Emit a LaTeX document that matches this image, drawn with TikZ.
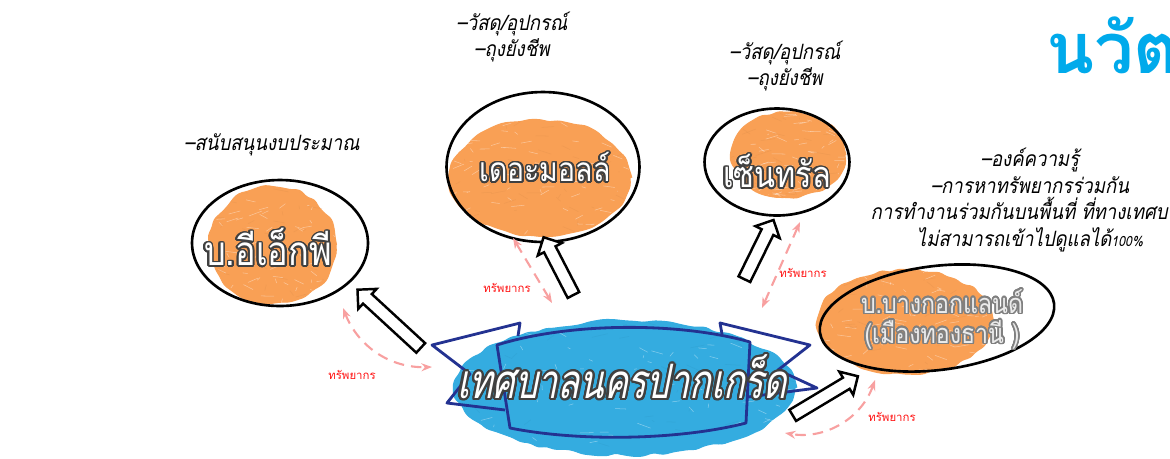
\documentclass[tikz,border=0pt]{standalone}
\usepackage{fontspec}
\usepackage{contour}
\usetikzlibrary{arrows.meta,positioning,shapes.geometric,shapes.arrows,decorations.pathmorphing}
\newfontfamily\thaifont[Script=Thai]{Loma}
\newfontfamily\namefont[Script=Thai,FakeStretch=0.85]{Loma}
\newfontfamily\bigfont[Script=Thai,FakeStretch=0.75,FakeSlant=0.2]{Loma}
\newfontfamily\thaislant[Script=Thai,FakeSlant=0.2,FakeStretch=0.88]{Loma}
\definecolor{scrorange}{RGB}{249,160,85}
\definecolor{scrblue}{RGB}{52,172,224}
\definecolor{ribbon}{RGB}{35,50,145}
\definecolor{titleblue}{RGB}{0,170,235}
\definecolor{respink}{RGB}{248,160,160}
\definecolor{resred}{RGB}{255,20,20}
\contourlength{0.9pt}
\contournumber{24}

\tikzset{
  blob/.style={fill=#1, draw=#1, line width=0.6pt, decorate,
    decoration={random steps,segment length=5pt,amplitude=1.2pt}, rounded corners=2pt},
  ring/.style={ellipse, draw=black, line width=1.5pt, inner sep=0pt},
  orgname/.style={text=white, font=\namefont\fontsize{22}{24}\selectfont},
  note/.style={align=center, font=\thaislant\fontsize{12}{15}\selectfont},
  flow/.style={single arrow, draw=black, line width=1.4pt, fill=white, inner sep=3pt,
    single arrow head extend=4pt, sloped, allow upside down},
  res/.style={respink, line width=1.2pt, dash pattern=on 6pt off 4pt,
    {Stealth[length=6pt]}-{Stealth[length=6pt]}},
  reslabel/.style={text=resred, font=\thaifont\fontsize{6.5}{8}\selectfont},
}

\begin{document}
\begin{tikzpicture}[x=0.02cm,y=-0.02cm]
  \useasboundingbox (0,0) rectangle (1170,458);
  \clip (0,0) rectangle (1170,458);
  \fill[white] (0,0) rectangle (1170,458);
  \pgfmathsetseed{7}

  % scribbled fills
  \foreach \cx/\cy/\rx/\ry/\col in {273/245/63/58/scrorange, 540/178/90/58/scrorange,
      788/155/57/42/scrorange, 905/322/88/52/scrorange, 625/388/170/67/scrblue}{
    \fill[blob=\col] (\cx,\cy) ellipse ({\rx} and {\ry});
    \begin{scope}
      \clip (\cx,\cy) ellipse ({\rx} and {\ry});
      \foreach \i in {1,...,70}
        \draw[white, opacity=0.4, line width=0.3pt]
          ({\cx+\rx*rand},{\cy+\ry*rand}) -- ++({14*rand},{5*rand});
      \foreach \i in {1,...,40}
        \draw[\col!85!black, opacity=0.25, line width=0.3pt]
          ({\cx+\rx*rand},{\cy+\ry*rand}) -- ++({16*rand},{6*rand});
    \end{scope}
  }

  % rings
  \node[ring, minimum width=3.52cm, minimum height=2.52cm] (exp)  at (280,243) {};
  \node[ring, minimum width=3.86cm, minimum height=3cm]    (mall) at (543,167) {};
  \node[ring, minimum width=2.9cm,  minimum height=2.14cm] (cen)  at (777,162) {};
  \node[ring, minimum width=4.72cm, minimum height=2.08cm, rotate=7] (bkl) at (937,318) {};

  % ribbon
  \draw[ribbon, line width=1.6pt, line join=round]
    (497,345) .. controls (570,322) and (680,322) .. (750,342) -- (746,423)
    .. controls (680,440) and (580,442) .. (510,428) -- cycle;
  \draw[ribbon, line width=1.6pt, line join=round]
    (518,336) -- (520,323) -- (432,345) -- (470,374) -- (447,403) -- (505,410);
  \draw[ribbon, line width=1.6pt, line join=round]
    (722,334) -- (720,323) -- (810,345) -- (778,370) -- (817,388) -- (748,397);

  % names
  \node[orgname, font=\namefont\fontsize{23}{25}\selectfont] (expname) at (268,248)
    {\contour{darkgray}{บ.อีเอ็กพี}};
  \node[orgname, font=\namefont\fontsize{19}{21}\selectfont] (mallname) at (545,168)
    {\contour{darkgray}{เดอะมอลล์}};
  \node[orgname, font=\namefont\fontsize{20.5}{22}\selectfont] (cenname) at (777,172)
    {\contour{darkgray}{เซ็นทรัล}};
  \node[orgname, text=black!8, align=center, font=\namefont\fontsize{15.5}{17}\selectfont]
    (bklname) at (942,320) {\contour{gray}{บ.บางกอกแลนด์}\\\contour{gray}{(เมืองทองธานี )}};
  \node[orgname, font=\bigfont\fontsize{27}{30}\selectfont] (ban) at (622,378)
    {\contourlength{1.2pt}\contour{darkgray}{เทศบาลนครปากเกร็ด}};

  % notes
  \node[note] (expnote)  at (272,145) {–สนับสนุนงบประมาณ};
  \node[note] (mallnote) at (512,37)  {–วัสดุ/อุปกรณ์\\–ถุงยังชีพ};
  \node[note] (cennote)  at (785,66)  {–วัสดุ/อุปกรณ์\\–ถุงยังชีพ};
  \node[note] (bklnote)  at (1030,200)
    {–องค์ความรู้\\–การหาทรัพยากรร่วมกัน\\การทำงานร่วมกันบนพื้นที่ ที่ทางเทศบาล\\ไม่สามารถเข้าไปดูแลได้{\fontsize{8}{15}\selectfont 100\%}};

  \node[anchor=west, text=titleblue, font=\thaifont\bfseries\fontsize{40}{44}\selectfont]
    (title) at (1040,45) {นวัตกรรม};

  % support arrows
  \coordinate (a1s) at (423,350); \coordinate (a1e) at (360,292);
  \coordinate (a2s) at (575,298); \coordinate (a2e) at (545,240);
  \coordinate (a3s) at (743,282); \coordinate (a3e) at (772,223);
  \coordinate (a4s) at (790,417); \coordinate (a4e) at (855,378);
  \path (a1s) -- node[flow, minimum height=1.72cm] {} (a1e);
  \path (a2s) -- node[flow, minimum height=1.3cm]  {} (a2e);
  \path (a3s) -- node[flow, minimum height=1.32cm] {} (a3e);
  \path (a4s) -- node[flow, minimum height=1.52cm] {} (a4e);

  % resources
  \coordinate (r1a) at (343,308); \coordinate (r1b) at (432,367);
  \coordinate (r2a) at (513,238); \coordinate (r2b) at (552,303);
  \coordinate (r3a) at (800,222); \coordinate (r3b) at (762,308);
  \coordinate (r4a) at (875,380); \coordinate (r4b) at (785,433);
  \draw[res] (r1a) to[bend right=35] (r1b);
  \draw[res] (r2a) -- (r2b);
  \draw[res] (r3a) -- (r3b);
  \draw[res] (r4a) to[bend left=40] (r4b);
  \node[reslabel] (r1t) at (352,375) {ทรัพยากร};
  \node[reslabel] (r2t) at (507,288) {ทรัพยากร};
  \node[reslabel] (r3t) at (803,273) {ทรัพยากร};
  \node[reslabel] (r4t) at (892,417) {ทรัพยากร};
\end{tikzpicture}
\end{document}
